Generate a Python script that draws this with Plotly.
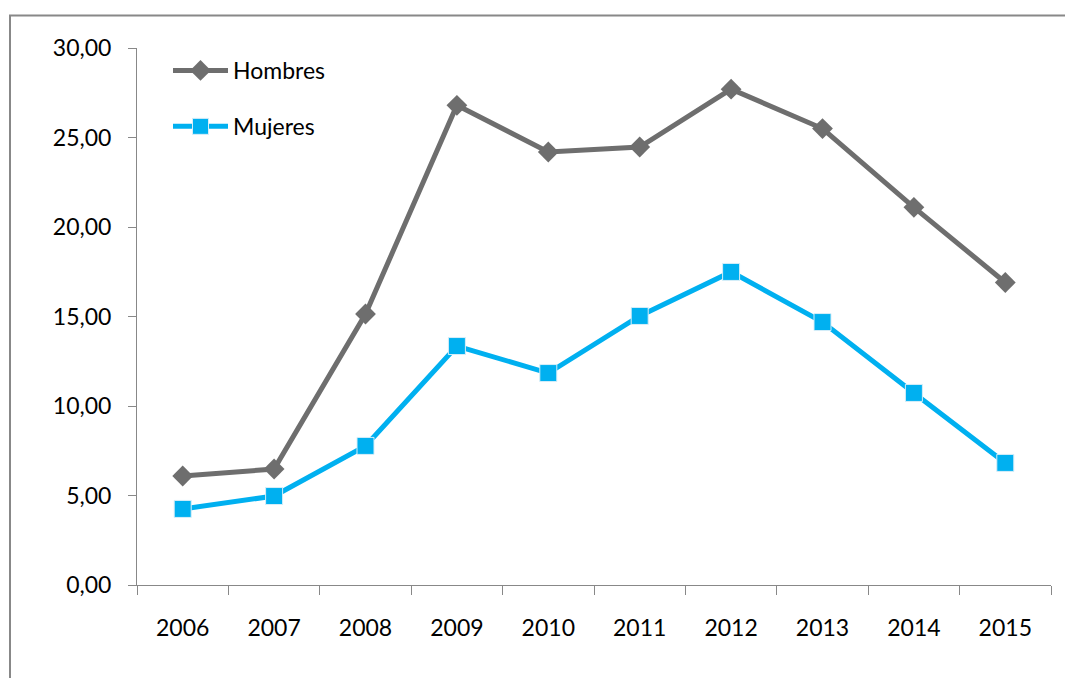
import plotly.graph_objects as go

years = ["2006", "2007", "2008", "2009", "2010", "2011", "2012", "2013", "2014", "2015"]
hombres = [6.09, 6.48, 15.14, 26.80, 24.19, 24.47, 27.70, 25.50, 21.10, 16.90]
mujeres = [4.25, 4.97, 7.77, 13.35, 11.84, 15.03, 17.49, 14.69, 10.73, 6.82]

W, H = 1065, 678
L, R, T, B = 137, 14, 48, 93
pw, ph = W - L - R, H - T - B

def px_x(x):
    return (x - L) / pw

def px_y(y):
    return 1 - (y - T) / ph

fig = go.Figure()
fig.add_trace(go.Scatter(
    x=years, y=hombres, name="Hombres", mode="lines+markers",
    line=dict(color="#6e6e6e", width=5),
    marker=dict(symbol="diamond", size=16, color="#6e6e6e", line=dict(color="#6e6e6e", width=0)),
    legendgroup="h",
))
fig.add_trace(go.Scatter(
    x=years, y=mujeres, name="Mujeres", mode="lines+markers",
    line=dict(color="#00b0f0", width=5),
    marker=dict(symbol="square", size=17, color="#00b0f0", line=dict(color="#d8eef8", width=1)),
    legendgroup="m",
))

font = dict(family="Lato, 'Open Sans', sans-serif", size=23, color="#000000")

fig.update_layout(
    width=W, height=H,
    margin=dict(l=L, r=R, t=T, b=B),
    paper_bgcolor="white", plot_bgcolor="white",
    separators=", ",
    font=font,
    showlegend=True,
    legend=dict(x=px_x(168), y=px_y(49), xanchor="left", yanchor="top",
                bgcolor="rgba(0,0,0,0)", font=font, tracegroupgap=23,
                traceorder="grouped", itemwidth=55),
    xaxis=dict(
        type="category", range=[-0.5, 9.5], showgrid=False,
        showline=True, linecolor="#888888", linewidth=1,
        ticks="outside", tickson="boundaries", ticklen=9, tickcolor="#888888",
        tickfont=font, zeroline=False, ticklabelstandoff=22,
    ),
    yaxis=dict(
        range=[0, 30], tickvals=[0, 5, 10, 15, 20, 25, 30], tickformat=".2f",
        showgrid=False, showline=True, linecolor="#888888", linewidth=1,
        ticks="outside", ticklen=8, tickcolor="#888888", tickfont=font,
        zeroline=False, ticklabelstandoff=12,
    ),
    shapes=[
        dict(type="rect", xref="paper", yref="paper",
             x0=px_x(10), x1=px_x(1075), y0=px_y(690), y1=px_y(15.5),
             line=dict(color="#888888", width=2), fillcolor="rgba(0,0,0,0)", layer="below"),
    ],
)

fig.write_html("out.html")
